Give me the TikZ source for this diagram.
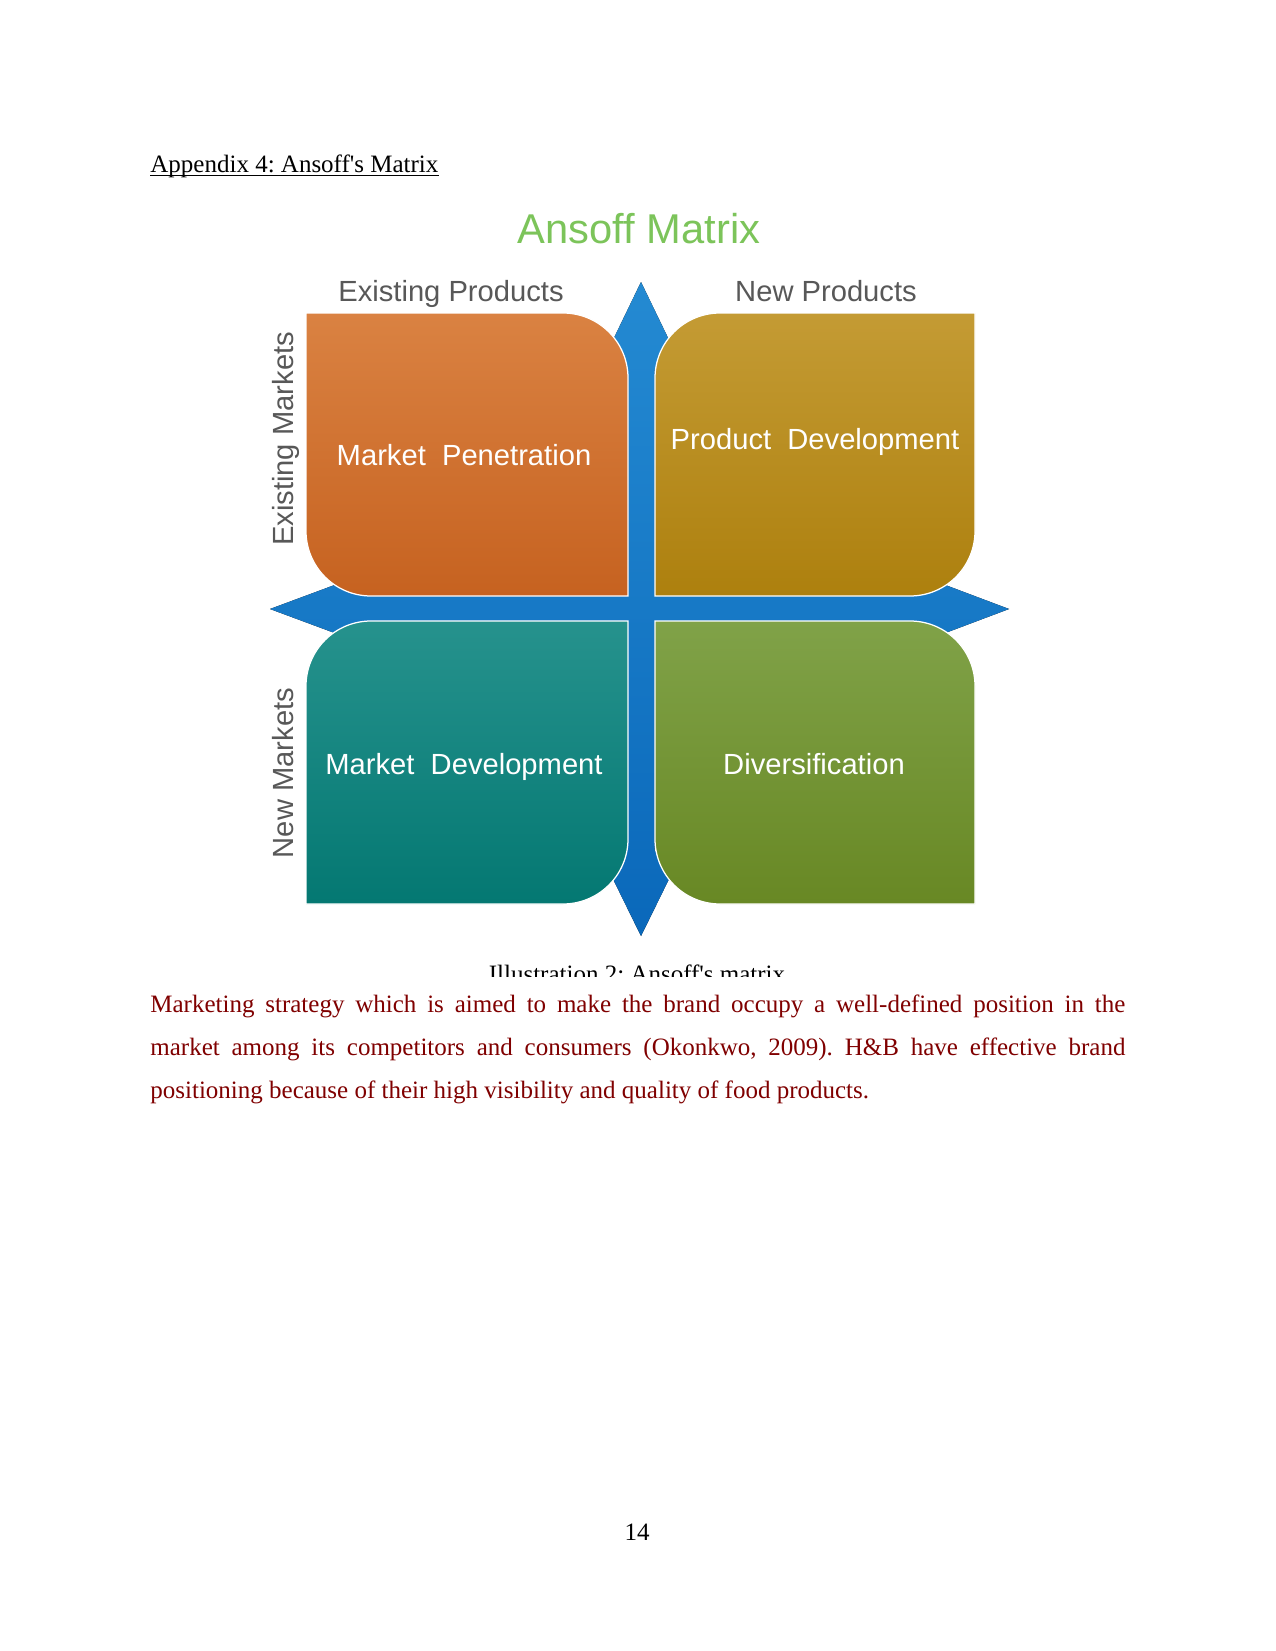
\documentclass[tikz,border=0pt]{standalone}
\usepackage{fontspec}
\setmainfont{Liberation Serif}
\newfontfamily\arialfont{Liberation Sans}
\frenchspacing
\definecolor{titlegreen}{RGB}{124,196,90}
\definecolor{axisgray}{RGB}{88,88,88}
\definecolor{bodyred}{RGB}{128,0,0}
\definecolor{crosstop}{RGB}{36,138,210}
\definecolor{crossbot}{RGB}{10,104,186}
\definecolor{pentop}{RGB}{218,130,66}
\definecolor{penbot}{RGB}{198,98,32}
\definecolor{prodtop}{RGB}{196,155,52}
\definecolor{prodbot}{RGB}{173,128,14}
\definecolor{mdevtop}{RGB}{38,146,141}
\definecolor{mdevbot}{RGB}{4,120,114}
\definecolor{divtop}{RGB}{128,162,72}
\definecolor{divbot}{RGB}{104,136,36}
\begin{document}
\begin{tikzpicture}[x=0.48pt, y=-0.48pt,
    quadlabel/.style={font=\arialfont\fontsize{14}{16}\selectfont, text=white, inner sep=0pt, anchor=base},
    sidelabel/.style={font=\arialfont\fontsize{14}{16}\selectfont, text=axisgray, inner sep=0pt, anchor=base},
    quadbox/.style={draw=white, line width=0.6pt, shading=axis},
    bodyline/.style={anchor=base west, inner sep=0pt, font=\fontsize{12}{14}\selectfont, text=bodyred}]
\useasboundingbox[fill=white] (0,0) rectangle (1275,1651);

% Heading
\node[anchor=base west, inner sep=0pt, font=\fontsize{12}{14}\selectfont] (heading) at (150,173) {Appendix 4: Ansoff\textquotesingle s Matrix};
\draw[line width=0.5pt] ([yshift=-1.3pt]heading.base west) -- ([yshift=-1.3pt]heading.base east);

% Title
\node[font=\arialfont\fontsize{20}{24}\selectfont, text=titlegreen, inner sep=0pt] (title) at (639,229) {Ansoff Matrix};

% Axis labels
\node[sidelabel] (existprod) at (451,301) {Existing Products};
\node[sidelabel] (newprod) at (826,301) {New Products};
\node[sidelabel, rotate=90] (existmkt) at (293,439) {Existing Markets};
\node[sidelabel, rotate=90] (newmkt) at (293,773) {New Markets};

% Cross arrows
\fill[top color=crosstop, bottom color=crossbot] (641,282) -- (670,342) -- (654.5,370) -- (654.5,595.5) -- (912,595.5) -- (940,583) -- (1009,609)
  -- (940,635) -- (912,622.5) -- (654.5,622.5) -- (654.5,850) -- (670,877) -- (641,936) -- (612,877) -- (627.5,850) -- (627.5,622.5)
  -- (370,622.5) -- (340,635) -- (270,609) -- (340,583) -- (370,595.5) -- (627.5,595.5) -- (627.5,370) -- (612,342) -- cycle;

% Quadrants
\path[quadbox, top color=pentop, bottom color=penbot] (306,313) -- (563,313) arc[start angle=270, end angle=360, radius=65]
  -- (628,596) -- (371,596) arc[start angle=90, end angle=180, radius=65] -- cycle;
\path[quadbox, top color=prodtop, bottom color=prodbot] (975,313) -- (975,531) arc[start angle=0, end angle=90, radius=65]
  -- (655,596) -- (655,378) arc[start angle=180, end angle=270, radius=65] -- cycle;
\path[quadbox, top color=mdevtop, bottom color=mdevbot] (306,904) -- (306,686) arc[start angle=180, end angle=270, radius=65]
  -- (628,621) -- (628,839) arc[start angle=0, end angle=90, radius=65] -- cycle;
\path[quadbox, top color=divtop, bottom color=divbot] (655,621) -- (910,621) arc[start angle=270, end angle=360, radius=65]
  -- (975,904) -- (720,904) arc[start angle=90, end angle=180, radius=65] -- cycle;

\node[quadlabel] (penetration) at (464,465) {Market~~Penetration};
\node[quadlabel] (proddev) at (815,449) {Product~~Development};
\node[quadlabel] (mktdev) at (464,774) {Market~~Development};
\node[quadlabel] (diversify) at (814,774) {Diversification};

% Caption, cut at the bottom
\begin{scope}
  \clip (400,940) rectangle (880,976);
  \node[anchor=base, inner sep=0pt, font=\fontsize{12}{14}\selectfont] (caption) at (637,982) {Illustration 2: Ansoff\textquotesingle s matrix};
\end{scope}

% Body text
\node[bodyline] (line1) at (150,1012) {\makebox[468pt][s]{Marketing strategy which is aimed to make the brand occupy a well-defined position in the}};
\node[bodyline] (line2) at (150,1055) {\makebox[468pt][s]{market among its competitors and consumers (Okonkwo, 2009). H\&B have effective brand}};
\node[bodyline] (line3) at (150,1098) {positioning because of their high visibility and quality of food products.};

% Page number
\node[anchor=base, inner sep=0pt, font=\fontsize{12}{14}\selectfont] (pagenum) at (637,1540) {14};
\end{tikzpicture}
\end{document}
